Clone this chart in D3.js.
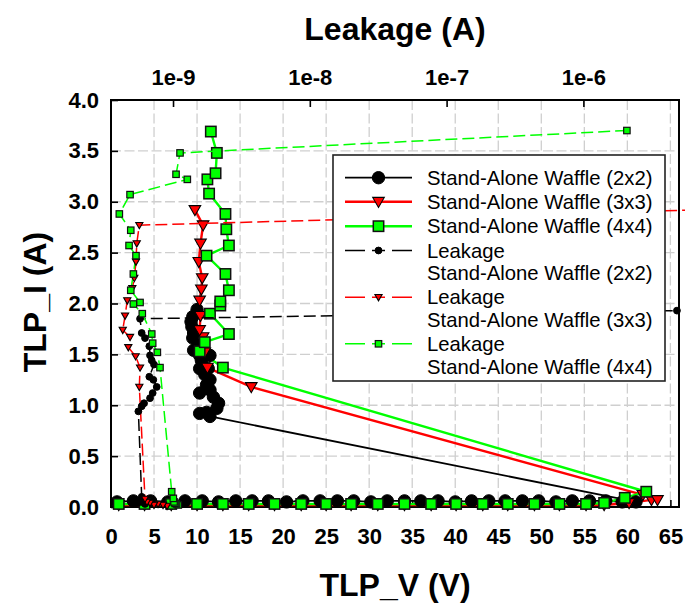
<!DOCTYPE html>
<html><head><meta charset="utf-8">
<script src="https://cdn.jsdelivr.net/npm/d3@7"></script>
<style>body{margin:0;background:#fff}svg{display:block}</style>
</head><body>
<svg id="c" width="685" height="605"></svg>
<script>
// ---------------- data ----------------
const xTicks = [0,5,10,15,20,25,30,35,40,45,50,55,60,65];
const yTicks = [0,0.5,1,1.5,2,2.5,3,3.5,4];
const topTicks = [1e-9,1e-8,1e-7,1e-6];
const topLabels = ["1e-9","1e-8","1e-7","1e-6"];
const seriesNames = ["Stand-Alone Waffle (2x2)","Stand-Alone Waffle (3x3)","Stand-Alone Waffle (4x4)"];

// TLP I-V (bottom axis V, left axis A)
const v2x2 = [0.7,2.6,4.6,6.6,8.6,10.6,12.5,14.5,16.4,18.3,20.4,22.3,24.3,26.3,28.2,30.2,32.1,34.1,36.0,38.0,40.0,41.9,43.9,45.8,47.8,49.7,51.7,53.6,55.6,57.5,59.4,61.0,
  11.5,10.3,11.1,12.3,12.5,11.9,11.5,10.3,11.1,11.5,10.9,11.3,10.3,10.5,11.5,10.3,9.6,10.2,9.5,9.6,9.4,9.3,9.5,10.0];
const i2x2 = [0.05,0.06,0.06,0.05,0.06,0.06,0.05,0.06,0.06,0.06,0.05,0.06,0.06,0.06,0.06,0.05,0.06,0.06,0.06,0.06,0.05,0.06,0.06,0.06,0.06,0.06,0.05,0.06,0.06,0.06,0.05,0.05,
  0.89,0.92,0.93,0.97,1.02,1.08,1.15,1.12,1.20,1.25,1.30,1.36,1.36,1.44,1.49,1.49,1.54,1.59,1.66,1.71,1.77,1.82,1.87,1.94];

const v3x3 = [0.9,3.9,7.0,10.0,13.0,16.0,19.0,22.1,25.0,27.9,31.0,34.1,37.2,40.1,43.2,46.1,49.2,52.1,55.2,57.3,60.2,62.8,63.5,61.8,
  16.3,11.2,10.9,10.7,10.3,10.4,10.3,10.5,10.6,10.2,10.4,10.7,9.75];
const i3x3 = [0.02,0.02,0.02,0.02,0.02,0.02,0.02,0.02,0.02,0.02,0.02,0.02,0.02,0.02,0.02,0.02,0.02,0.02,0.02,0.02,0.04,0.07,0.07,0.12,
  1.18,1.37,1.52,1.67,1.74,1.88,2.03,2.14,2.25,2.41,2.59,2.77,2.92];

const v4x4 = [0.9,3.9,7.0,10.0,13.0,16.0,19.0,22.1,25.0,27.9,31.0,34.1,37.2,40.1,43.2,46.1,49.2,52.1,55.2,57.3,59.7,62.2,
  13.0,10.3,10.9,13.7,11.5,12.7,12.7,13.7,13.3,11.1,13.7,13.4,13.3,11.4,11.2,12.15,12.3,11.6];
const i4x4 = [0.03,0.03,0.03,0.03,0.03,0.03,0.03,0.03,0.03,0.03,0.03,0.03,0.03,0.03,0.03,0.03,0.03,0.03,0.03,0.04,0.09,0.15,
  1.37,1.53,1.62,1.70,1.90,1.98,2.02,2.13,2.29,2.47,2.57,2.73,2.88,3.08,3.22,3.28,3.48,3.69];

// Leakage (top axis A, left axis A)
const leak2I = [0.03,0.05,0.04,0.06,0.10,0.94,0.99,1.02,1.07,1.12,1.18,1.25,1.28,1.40,1.44,1.49,1.58,1.66,1.71,1.85,1.93];
const leak2A = [6.24e-10,5.84e-10,5.46e-10,6.03e-10,5.90e-10,5.58e-10,5.90e-10,6.14e-10,6.79e-10,7.10e-10,7.60e-10,7.18e-10,6.71e-10,7.26e-10,6.99e-10,6.79e-10,6.71e-10,6.24e-10,5.90e-10,5.74e-10,4.83e-6];

const leak3I = [0.01,0.02,0.03,0.02,0.04,0.05,0.08,1.18,1.37,1.48,1.57,1.67,1.74,1.88,2.03,2.15,2.25,2.41,2.59,2.77,2.92];
const leak3A = [9.04e-10,8.45e-10,7.77e-10,7.26e-10,6.79e-10,6.45e-10,6.24e-10,5.67e-10,5.74e-10,5.33e-10,4.71e-10,4.85e-10,4.29e-10,4.46e-10,4.63e-10,5.04e-10,5.21e-10,5.36e-10,5.43e-10,5.67e-10,7.0e-6];

const leak4I = [0.02,0.03,0.036,0.05,0.085,0.15,1.37,1.52,1.61,1.70,1.90,1.995,2.01,2.13,2.29,2.47,2.57,2.72,2.88,3.07,3.22,3.27,3.48,3.70];
const leak4A = [1.093e-9,1.061e-9,1.034e-9,1.017e-9,1.005e-9,9.78e-10,8.03e-10,7.68e-10,7.10e-10,6.99e-10,5.96e-10,5.13e-10,5.74e-10,4.91e-10,5.13e-10,5.36e-10,4.77e-10,4.91e-10,4.05e-10,4.85e-10,1.272e-9,1.052e-9,1.125e-9,2.08e-6];

// ---------------- chart ----------------
const svg = d3.select('#c');
const L = 111, R = 679, T = 100, B = 507;
const x = d3.scaleLinear().domain([0, 66]).range([L, R]);
const y = d3.scaleLinear().domain([0, 4]).range([B, T]);
const xl = d3.scaleLog().domain([3.52e-10, 5.0e-6]).range([L, R]);

const FONT = "'Liberation Sans', Arial, sans-serif";
const BLACK = "#000", RED = "#ff0000", GREEN = "#00ff00";

svg.append('rect').attr('width', 685).attr('height', 605).attr('fill', '#fff');

// grid
const grid = svg.append('g');
grid.selectAll('line.v').data(xTicks.filter(d => d > 0)).join('line')
  .attr('x1', d => x(d)).attr('x2', d => x(d)).attr('y1', T).attr('y2', B)
  .attr('stroke', '#cfcfcf').attr('stroke-width', 1.3).attr('stroke-dasharray', '10,3.5');
grid.selectAll('line.h').data(yTicks.filter(d => d > 0 && d < 4)).join('line')
  .attr('y1', d => y(d)).attr('y2', d => y(d)).attr('x1', L).attr('x2', R)
  .attr('stroke', '#cfcfcf').attr('stroke-width', 1.3).attr('stroke-dasharray', '10,3.5');

// axes
function styleAxis(g) {
  g.select('.domain').remove();
  g.selectAll('.tick line').attr('stroke', '#000').attr('stroke-width', 1.6);
  g.selectAll('.tick text').attr('fill', '#000').style('font-family', FONT)
    .style('font-weight', 'bold').style('font-size', '22px');
}
svg.append('g').attr('transform', `translate(0,${B})`)
  .call(d3.axisBottom(x).tickValues(xTicks).tickSize(-7).tickPadding(21).tickFormat(d3.format('d')))
  .call(styleAxis);
svg.append('g').attr('transform', `translate(${L},0)`)
  .call(d3.axisLeft(y).tickValues(yTicks).tickSize(-7).tickPadding(12).tickFormat(d3.format('.1f')))
  .call(styleAxis);
svg.append('g').attr('transform', `translate(0,${T})`)
  .call(d3.axisTop(xl).tickValues(topTicks).tickSize(-7).tickPadding(15).tickFormat((d, i) => topLabels[i]))
  .call(styleAxis);

// frame
svg.append('rect').attr('x', L).attr('y', T).attr('width', R - L).attr('height', B - T)
  .attr('fill', 'none').attr('stroke', '#000').attr('stroke-width', 2);

// titles
svg.append('text').attr('x', 395).attr('y', 40).attr('text-anchor', 'middle')
  .style('font-family', FONT).style('font-weight', 'bold').style('font-size', '32px').text('Leakage (A)');
svg.append('text').attr('x', 395).attr('y', 596).attr('text-anchor', 'middle')
  .style('font-family', FONT).style('font-weight', 'bold').style('font-size', '32px').text('TLP_V (V)');
svg.append('text').attr('transform', 'translate(46,302) rotate(-90)').attr('text-anchor', 'middle')
  .style('font-family', FONT).style('font-weight', 'bold').style('font-size', '32px').text('TLP_I (A)');

// marker helpers
function marker(g, type, cx, cy, big, fill) {
  const s = big ? 1 : 0.62;
  if (type === 'circle') {
    g.append('circle').attr('cx', cx).attr('cy', cy).attr('r', (big ? 6.2 : 3.4))
      .attr('fill', fill).attr('stroke', '#000').attr('stroke-width', 1);
  } else if (type === 'tri') {
    const w = 5.8 * s, t = 4.3 * s, b = 5.8 * s;
    g.append('path').attr('d', `M${cx - w},${cy - t}L${cx + w},${cy - t}L${cx},${cy + b}Z`)
      .attr('fill', fill).attr('stroke', '#000').attr('stroke-width', 1.1);
  } else {
    const h = 5.2 * s;
    g.append('rect').attr('x', cx - h).attr('y', cy - h).attr('width', 2 * h).attr('height', 2 * h)
      .attr('fill', fill).attr('stroke', '#111').attr('stroke-width', big ? 1.5 : 1.2);
  }
}

const tlp = [
  {v: v2x2, i: i2x2, color: BLACK, fill: BLACK, type: 'circle', w: 1.8},
  {v: v3x3, i: i3x3, color: RED, fill: RED, type: 'tri', w: 2.4},
  {v: v4x4, i: i4x4, color: GREEN, fill: GREEN, type: 'square', w: 2.4}
];
const leak = [
  {a: leak2A, i: leak2I, color: BLACK, fill: BLACK, type: 'circle'},
  {a: leak3A, i: leak3I, color: RED, fill: RED, type: 'tri'},
  {a: leak4A, i: leak4I, color: GREEN, fill: GREEN, type: 'square'}
];

const plot = svg.append('g');
tlp.forEach(s => {
  const pts = d3.zip(s.v, s.i);
  plot.append('path').datum(pts)
    .attr('d', d3.line().x(d => x(d[0])).y(d => y(d[1])))
    .attr('fill', 'none').attr('stroke', s.color).attr('stroke-width', s.w).attr('stroke-linejoin', 'round');
});
tlp.forEach(s => {
  const g = plot.append('g');
  d3.zip(s.v, s.i).forEach(d => marker(g, s.type, x(d[0]), y(d[1]), true, s.fill));
});
leak.forEach(s => {
  const pts = d3.zip(s.a, s.i);
  plot.append('path').datum(pts)
    .attr('d', d3.line().x(d => xl(d[0])).y(d => y(d[1])))
    .attr('fill', 'none').attr('stroke', s.color).attr('stroke-width', 1.5).attr('stroke-dasharray', '12,5');
});
leak.forEach(s => {
  const g = plot.append('g');
  d3.zip(s.a, s.i).forEach(d => marker(g, s.type, xl(d[0]), y(d[1]), false, s.fill));
});

// legend
const lg = svg.append('g');
lg.append('rect').attr('x', 333).attr('y', 155).attr('width', 332).attr('height', 226)
  .attr('fill', '#fff').attr('stroke', '#222').attr('stroke-width', 1.6);
const entries = [
  {y: 177.7, t: [seriesNames[0]], s: tlp[0], big: true},
  {y: 201.7, t: [seriesNames[1]], s: tlp[1], big: true},
  {y: 226.2, t: [seriesNames[2]], s: tlp[2], big: true},
  {y: 250.5, t: ['Leakage', seriesNames[0]], s: leak[0], big: false},
  {y: 297.2, t: ['Leakage', seriesNames[1]], s: leak[1], big: false},
  {y: 343.8, t: ['Leakage', seriesNames[2]], s: leak[2], big: false}
];
entries.forEach(e => {
  const ln = lg.append('line').attr('x1', 345).attr('x2', 412).attr('y1', e.y).attr('y2', e.y)
    .attr('stroke', e.s.color).attr('stroke-width', e.big ? e.s.w : 1.5);
  if (!e.big) ln.attr('stroke-dasharray', '20,7,13,7,20,60');
  marker(lg, e.s.type, 378.5, e.y, e.big, e.s.fill);
  e.t.forEach((txt, k) => {
    lg.append('text').attr('x', 427).attr('y', e.y + 7 + k * 22.8)
      .style('font-family', FONT).style('font-size', '20.3px').attr('fill', '#000').text(txt);
  });
});
</script>
</body></html>
